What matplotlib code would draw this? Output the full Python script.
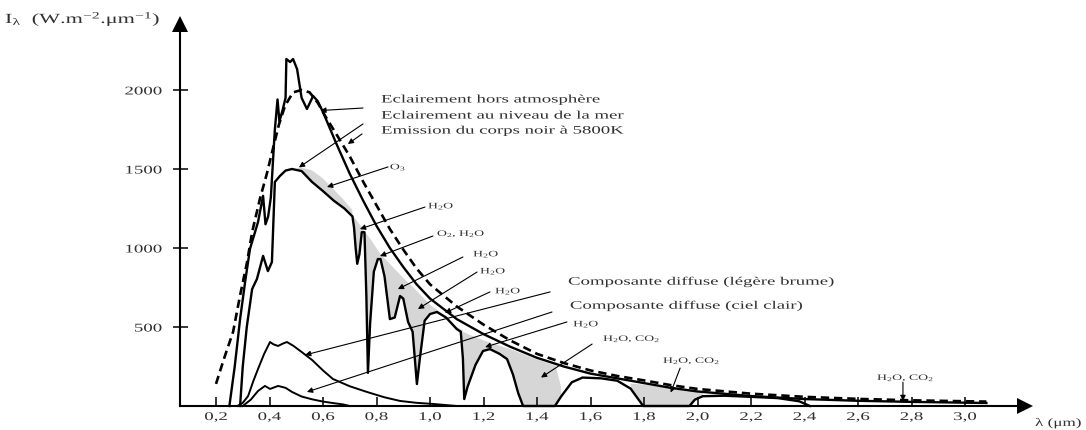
import numpy as np
import matplotlib
matplotlib.use("Agg")
import matplotlib.pyplot as plt
from matplotlib.patheffects import AbstractPathEffect
from matplotlib.transforms import Affine2D

# ---------------------------------------------------------------- data
# Extraterrestrial solar irradiance (W.m-2.um-1)
lam_ext = [0.25, 0.27, 0.29, 0.31, 0.327, 0.357, 0.376, 0.385, 0.395, 0.405, 0.42,
           0.43, 0.437, 0.45, 0.46, 0.463, 0.477, 0.488, 0.503, 0.52, 0.54, 0.563,
           0.58, 0.60, 0.65, 0.70, 0.75, 0.80, 0.85, 0.90, 0.95, 1.0, 1.1, 1.2, 1.3,
           1.4, 1.5, 1.6, 1.7, 1.8, 1.9, 2.0, 2.2, 2.4, 2.6, 2.8, 3.0, 3.08]
I_ext = [0, 250, 550, 800, 994, 1164, 1330, 1150, 1200, 1320, 1750,
         1940, 1800, 1880, 1950, 2196, 2177, 2196, 2133, 1950, 1880, 1962,
         1930, 1860, 1660, 1470, 1300, 1140, 1000, 880, 770, 680, 550, 455, 375,
         305, 250, 205, 175, 145, 115, 92, 63, 44, 33, 26, 21, 19]

# Irradiance at sea level
lam_sea = [0.29, 0.30, 0.315, 0.335, 0.353, 0.376, 0.394, 0.409, 0.42, 0.439,
           0.46, 0.484, 0.52, 0.559, 0.60, 0.64, 0.68, 0.71, 0.716, 0.722,
           0.728, 0.736, 0.745, 0.755, 0.762, 0.768, 0.776, 0.79, 0.805, 0.815,
           0.83, 0.85, 0.868, 0.888, 0.90, 0.918, 0.935, 0.951, 0.962, 0.98,
           1.0, 1.026, 1.06, 1.10, 1.115, 1.123, 1.128, 1.14, 1.17, 1.198,
           1.224, 1.26, 1.288, 1.31, 1.33, 1.348, 1.467, 1.49, 1.53, 1.57,
           1.64, 1.70, 1.75, 1.797, 1.97, 1.99, 2.02, 2.10, 2.20, 2.30, 2.38, 2.42]
I_sea = [0, 250, 500, 740, 804, 950, 854, 911, 1418, 1456,
         1490, 1500, 1487, 1418, 1360, 1300, 1250, 1200, 1130, 1000,
         900, 960, 1100, 1100, 700, 210, 520, 850, 930, 930,
         820, 550, 560, 696, 680, 532, 470, 139, 300, 540,
         582, 595, 560, 487, 470, 300, 44, 120, 260, 348,
         360, 330, 297, 200, 80, 0, 0, 60, 150, 180,
         175, 160, 110, 0, 0, 40, 62, 65, 58, 50, 30, 0]

# Black-body emission at 5800 K
lam_bb = [0.20, 0.23, 0.264, 0.29, 0.316, 0.335, 0.364, 0.39, 0.413, 0.435, 0.458,
          0.488, 0.52, 0.55, 0.58, 0.61, 0.65, 0.70, 0.75, 0.80, 0.85, 0.90, 0.95,
          1.0, 1.1, 1.2, 1.3, 1.4, 1.5, 1.6, 1.7, 1.8, 1.9, 2.0, 2.2, 2.4, 2.6,
          2.8, 3.0, 3.08]
I_bb = [140, 300, 470, 700, 910, 1100, 1310, 1470, 1630, 1780, 1900,
        1985, 2000, 1985, 1920, 1830, 1720, 1580, 1420, 1270, 1120, 990, 870,
        770, 630, 515, 415, 330, 272, 225, 190, 162, 132, 108, 78, 58, 45,
        36, 30, 28]

# Diffuse component, light haze
lam_haze = [0.28, 0.30, 0.32, 0.34, 0.357, 0.38, 0.402, 0.415, 0.432, 0.45, 0.465,
            0.49, 0.52, 0.56, 0.60, 0.637, 0.70, 0.764, 0.83, 0.888, 0.95, 1.011, 1.10]
I_haze = [0, 20, 63, 160, 234, 330, 405, 390, 380, 395, 405,
          380, 342, 290, 225, 171, 125, 89, 55, 32, 20, 13, 0]

# Diffuse component, clear sky
lam_clear = [0.30, 0.33, 0.357, 0.383, 0.402, 0.432, 0.46, 0.484, 0.52, 0.56,
             0.60, 0.64, 0.675, 0.70]
I_clear = [0, 40, 95, 127, 108, 127, 115, 89, 60, 42, 28, 18, 10, 0]

# Upper edges of the absorption bands (shaded down to the sea-level curve)
band_O3_lam = [0.71, 0.68, 0.64, 0.60, 0.56, 0.52, 0.50]
band_O3_I = [1240, 1300, 1370, 1440, 1490, 1510, 1505]
band_1_lam = [1.123, 1.10, 1.06, 1.026, 1.0, 0.95, 0.90, 0.85, 0.815, 0.78, 0.745, 0.71]
band_1_I = [480, 500, 570, 610, 640, 730, 810, 900, 960, 1050, 1130, 1210]
band_2_lam = [1.49, 1.47, 1.40, 1.30, 1.224, 1.15, 1.115]
band_2_I = [120, 255, 295, 360, 400, 450, 475]
band_3_lam = [2.02, 1.95, 1.90, 1.85, 1.80, 1.75]
band_3_I = [90, 105, 112, 125, 135, 142]

xtick_vals = [0.2, 0.4, 0.6, 0.8, 1.0, 1.2, 1.4, 1.6, 1.8, 2.0, 2.2, 2.4, 2.6, 2.8, 3.0]
xtick_labels = ["0,2", "0,4", "0,6", "0,8", "1,0", "1,2", "1,4", "1,6", "1,8",
                "2,0", "2,2", "2,4", "2,6", "2,8", "3,0"]
ytick_vals = [500, 1000, 1500, 2000]
ytick_labels = ["500", "1000", "1500", "2000"]

# ---------------------------------------------------------------- style
plt.rcParams["font.family"] = ["Liberation Serif", "DejaVu Serif"]
plt.rcParams["mathtext.fontset"] = "custom"
plt.rcParams["mathtext.rm"] = "Liberation Serif"
plt.rcParams["mathtext.it"] = "Liberation Serif:italic"
plt.rcParams["mathtext.bf"] = "Liberation Serif:bold"
plt.rcParams["hatch.color"] = "#9a9a9a"
plt.rcParams["hatch.linewidth"] = 0.6
plt.rcParams["lines.scale_dashes"] = False

TEXT = "#303030"


class Widen(AbstractPathEffect):
    """Draw glyphs stretched horizontally about a pivot (0 left, 0.5 centre, 1 right)."""

    def __init__(self, sx=1.65, anchor=0.0):
        super().__init__()
        self.sx = sx
        self.anchor = anchor

    def draw_path(self, renderer, gc, tpath, affine, rgbFace=None):
        ext = tpath.get_extents()
        pivot = 0.0 if self.anchor == 0 else ext.x0 + self.anchor * ext.width
        t = Affine2D().translate(-pivot, 0).scale(self.sx, 1.0).translate(pivot, 0) + affine
        renderer.draw_path(gc, tpath, t, rgbFace)


# ---------------------------------------------------------------- figure
fig = plt.figure(figsize=(10.86, 4.31), dpi=100)
ax = fig.add_axes([0, 0, 1, 1])
ax.set_xlim(-0.6075, 3.4523)
ax.set_ylim(-151.9, 2575.9)
ax.patch.set_visible(False)

for s in ("top", "right"):
    ax.spines[s].set_visible(False)
ax.spines["left"].set_position(("data", 0.0654))
ax.spines["bottom"].set_position(("data", 0))
ax.spines["left"].set_bounds(0, 2418)
ax.spines["bottom"].set_bounds(0.0654, 3.22)
for s in ("left", "bottom"):
    ax.spines[s].set_linewidth(1.5)

# axis arrowheads
ax.plot([3.225], [0], marker=">", ms=11, mew=0, color="black", clip_on=False)
ax.plot([0.0654], [2420], marker="^", ms=11, mew=0, color="black", clip_on=False)

ax.set_xticks(xtick_vals, xtick_labels)
ax.set_yticks(ytick_vals, ytick_labels)
ax.tick_params(axis="x", direction="in", length=6.5, width=1.1, pad=3.6,
               labelsize=8.5, labelcolor=TEXT)
ax.tick_params(axis="y", direction="inout", length=10.8, width=1.1, pad=7.4,
               labelsize=8.5, labelcolor=TEXT)
for t in ax.xaxis.get_major_ticks():
    t.label1.set_path_effects([Widen(1.6, 0.5)])
for t in ax.yaxis.get_major_ticks():
    t.label1.set_path_effects([Widen(1.6, 1.0)])

# shaded absorption bands
lam_sea_a = np.array(lam_sea)
I_sea_a = np.array(I_sea)
for blam, bI in ((band_O3_lam, band_O3_I), (band_1_lam, band_1_I),
                 (band_2_lam, band_2_I), (band_3_lam, band_3_I)):
    lo, hi = min(blam), max(blam)
    m = (lam_sea_a >= lo) & (lam_sea_a <= hi)
    px = np.concatenate([lam_sea_a[m], blam])
    py = np.concatenate([I_sea_a[m], bI])
    ax.fill(px, py, facecolor="#d6d6d6", edgecolor="none", hatch="....", lw=0, zorder=1)

# curves
ax.plot(lam_bb, I_bb, color="black", lw=1.9, ls=(0, (6, 3.5)), zorder=3)
ax.plot(lam_ext, I_ext, color="black", lw=1.7, zorder=3, solid_joinstyle="round")
ax.plot(lam_sea, I_sea, color="black", lw=1.7, zorder=3, solid_joinstyle="round")
ax.plot(lam_haze, I_haze, color="black", lw=1.4, zorder=3)
ax.plot(lam_clear, I_clear, color="black", lw=1.4, zorder=3)

# axis titles
ax.text(-0.589, 2449, r"I$_{\mathrm{\lambda}}$  (W.m$^{-2}$.μm$^{-1}$)", fontsize=10,
        color=TEXT, ha="left", va="center", path_effects=[Widen(1.6)])
ax.text(3.262, -110, "λ (μm)", fontsize=8.2, color=TEXT, ha="left", va="center",
        path_effects=[Widen(1.5)])


def label(x, y, s, size=8.2, sx=1.65):
    ax.text(x, y, s, fontsize=size, color=TEXT, ha="left", va="center",
            path_effects=[Widen(sx)], zorder=5)


def leader(start, tip):
    ax.annotate("", xy=tip, xytext=start, zorder=4,
                arrowprops=dict(arrowstyle="-|>", lw=0.8, color="black",
                                mutation_scale=8, shrinkA=0, shrinkB=0))


# curve captions
label(0.817, 1937, "Eclairement hors atmosphère")
label(0.817, 1835, "Eclairement au niveau de la mer")
label(0.817, 1740, "Emission du corps noir à 5800K")
leader((0.7495, 1886), (0.59, 1870))
leader((0.7495, 1785), (0.51, 1510))
leader((0.746, 1722), (0.693, 1658))

label(1.516, 785, "Composante diffuse (légère brume)")
label(1.523, 633, "Composante diffuse (ciel clair)")
leader((1.449, 722), (0.533, 323))
leader((1.456, 595), (0.540, 89))

# absorbing species
chem = [
    ((0.850, 1513), r"$\mathrm{O_3}$", (0.843, 1513), (0.615, 1386)),
    ((0.9925, 1266), r"$\mathrm{H_2O}$", (0.981, 1259), (0.738, 1120)),
    ((1.026, 1089), r"O$_2$, H$_2$O", (1.011, 1076), (0.813, 949)),
    ((1.161, 962), r"$\mathrm{H_2O}$", (1.123, 943), (0.880, 740)),
    ((1.187, 854), r"$\mathrm{H_2O}$", (1.176, 848), (0.955, 614)),
    ((1.243, 728), r"$\mathrm{H_2O}$", (1.224, 722), (1.056, 589)),
    ((1.535, 519), r"$\mathrm{H_2O}$", (1.512, 532), (1.206, 373)),
    ((1.647, 424), r"H$_2$O, CO$_2$", (1.606, 392), (1.415, 180)),
    ((1.871, 285), r"H$_2$O, CO$_2$", (1.935, 240), (1.900, 85)),
    ((2.671, 177), r"H$_2$O, CO$_2$", (2.768, 150), (2.768, 32)),
]
for pos, s, start, tip in chem:
    label(pos[0], pos[1], s, size=6, sx=1.65)
    leader(start, tip)

fig.savefig("out.png", dpi=100)
